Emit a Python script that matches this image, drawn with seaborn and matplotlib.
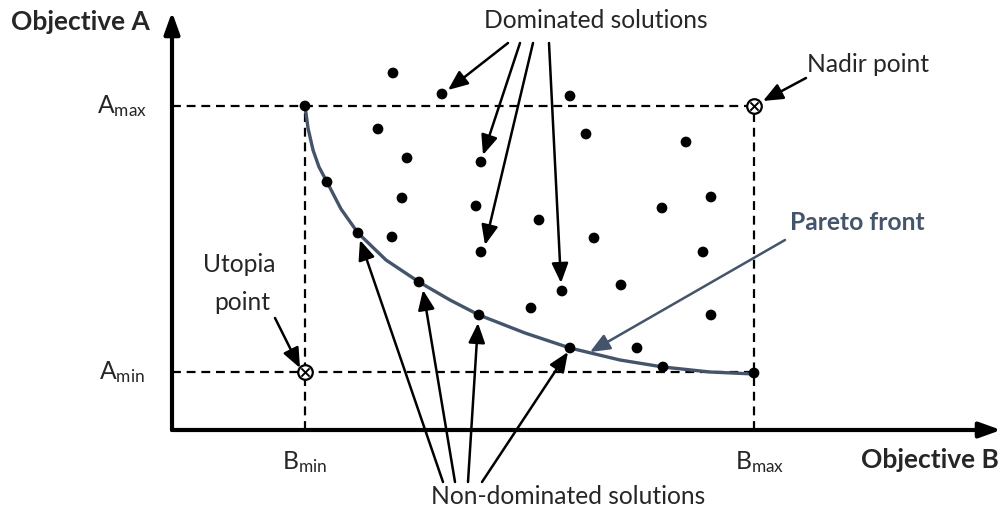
import matplotlib
matplotlib.use("Agg")
import matplotlib.pyplot as plt
import seaborn as sns
import pandas as pd

# ---- data (Objective B on x, Objective A on y) ----
b_min, b_max = 133, 582
a_min, a_max = 58, 324

dominated_b = [221, 270, 398, 206, 414, 235, 309, 514, 230, 304, 367, 490, 539,
               220, 309, 422, 531, 449, 390, 359, 539, 465]
dominated_a = [357, 336, 334, 301, 296, 272, 268, 288, 232, 224, 210, 222, 233,
               193, 178, 192, 178, 145, 139, 122, 115, 82]

nondom_b = [133, 155, 186, 247, 307, 398, 491, 582]
nondom_a = [324, 248, 197, 148, 115, 82, 63, 57]

front_b = [133, 136, 141, 147, 155, 169, 186, 214, 247, 278, 307, 353, 398, 448, 491, 538, 582]
front_a = [324, 302, 280, 263, 248, 221, 197, 170, 148, 130, 115, 97, 82, 70, 63, 58, 56]

# annotation arrows: (start_b, start_a, tip_b, tip_a)
dom_arrows = [(336, 387, 276, 340), (348, 387, 311, 275), (361, 387, 313, 185), (377, 387, 389, 147)]
nondom_arrows = [(271, -52, 188, 190), (283, -52, 251, 140), (296, -52, 306, 107), (310, -52, 396, 78)]
nadir_arrow = (634, 352, 591, 329)
utopia_arrow = (103, 112, 128, 62)
pareto_arrow = (613, 190, 418, 78)

front_color = "#44546A"

sns.set_theme(style="white")
plt.rcParams["font.family"] = ["Lato", "DejaVu Sans"]

fig = plt.figure(figsize=(10.03, 5.13), dpi=100)
ax = fig.add_axes([0, 0, 1, 1])
ax.set_xlim(-172, 831)
ax.set_ylim(-83, 430)
ax.set_axis_off()

# main axes with arrows
ax_arrow = dict(arrowstyle="-|>,head_length=1.0,head_width=0.36", lw=3,
                color="black", shrinkA=0, shrinkB=0, mutation_scale=13)
ax.annotate("", xy=(0, 418), xytext=(0, 0), arrowprops=ax_arrow)
ax.annotate("", xy=(829, 0), xytext=(0, 0), arrowprops=ax_arrow)

dash = dict(color="black", lw=1.6, ls=(0, (4, 2.6)), zorder=1)
ax.plot([0, b_max], [a_max, a_max], **dash)
ax.plot([0, b_max], [a_min, a_min], **dash)
ax.plot([b_min, b_min], [0, a_max], **dash)
ax.plot([b_max, b_max], [0, a_max], **dash)

# Pareto front curve
curve = pd.DataFrame({"B": front_b, "A": front_a})
sns.lineplot(data=curve, x="B", y="A", sort=False, estimator=None, color=front_color,
             lw=2.4, ax=ax, zorder=2)

# points
dom = pd.DataFrame({"B": dominated_b, "A": dominated_a})
nd = pd.DataFrame({"B": nondom_b, "A": nondom_a})
sns.scatterplot(data=dom, x="B", y="A", color="black", s=60, edgecolor="none", ax=ax, zorder=3)
sns.scatterplot(data=nd, x="B", y="A", color="black", s=60, edgecolor="none", ax=ax, zorder=3)

# Nadir / Utopia markers
special = pd.DataFrame({"B": [b_max, b_min], "A": [a_max, a_min]})
sns.scatterplot(data=special, x="B", y="A", s=110, facecolor="white", edgecolor="black",
                linewidth=1.6, ax=ax, zorder=4)
sns.scatterplot(data=special, x="B", y="A", s=35, marker="x", color="black",
                linewidth=1.4, ax=ax, zorder=5)

def arrow(a, color="black", lw=1.8):
    ax.annotate("", xy=(a[2], a[3]), xytext=(a[0], a[1]),
                arrowprops=dict(arrowstyle="-|>,head_length=1.0,head_width=0.42", lw=lw,
                                color=color, shrinkA=0, shrinkB=0, mutation_scale=12),
                zorder=6)

for a in dom_arrows:
    arrow(a)
for a in nondom_arrows:
    arrow(a)
arrow(nadir_arrow)
arrow(utopia_arrow)
arrow(pareto_arrow, color=front_color, lw=1.8)

fs = 17.7
fb = 19
ax.text(424, 410, "Dominated solutions", ha="center", va="center", fontsize=fs)
ax.text(396, -67, "Non-dominated solutions", ha="center", va="center", fontsize=fs)
ax.text(696, 365, "Nadir point", ha="center", va="center", fontsize=fs)
ax.text(67, 165, "Utopia", ha="center", va="center", fontsize=fs)
ax.text(70, 128, "point", ha="center", va="center", fontsize=fs)
ax.text(685, 208, "Pareto front", ha="center", va="center", fontsize=fs,
        fontweight="bold", color=front_color)
ax.text(-92, 408, "Objective A", ha="center", va="center", fontsize=fb, fontweight="bold")
ax.text(758, -30, "Objective B", ha="center", va="center", fontsize=fb, fontweight="bold")

ax.text(-50, a_max, r"$\mathregular{A_{max}}$", ha="center", va="center", fontsize=fs)
ax.text(-50, a_min, r"$\mathregular{A_{min}}$", ha="center", va="center", fontsize=fs)
ax.text(b_min, -32, r"$\mathregular{B_{min}}$", ha="center", va="center", fontsize=fs)
ax.text(b_max + 6, -32, r"$\mathregular{B_{max}}$", ha="center", va="center", fontsize=fs)

fig.savefig("out.png", dpi=100)
